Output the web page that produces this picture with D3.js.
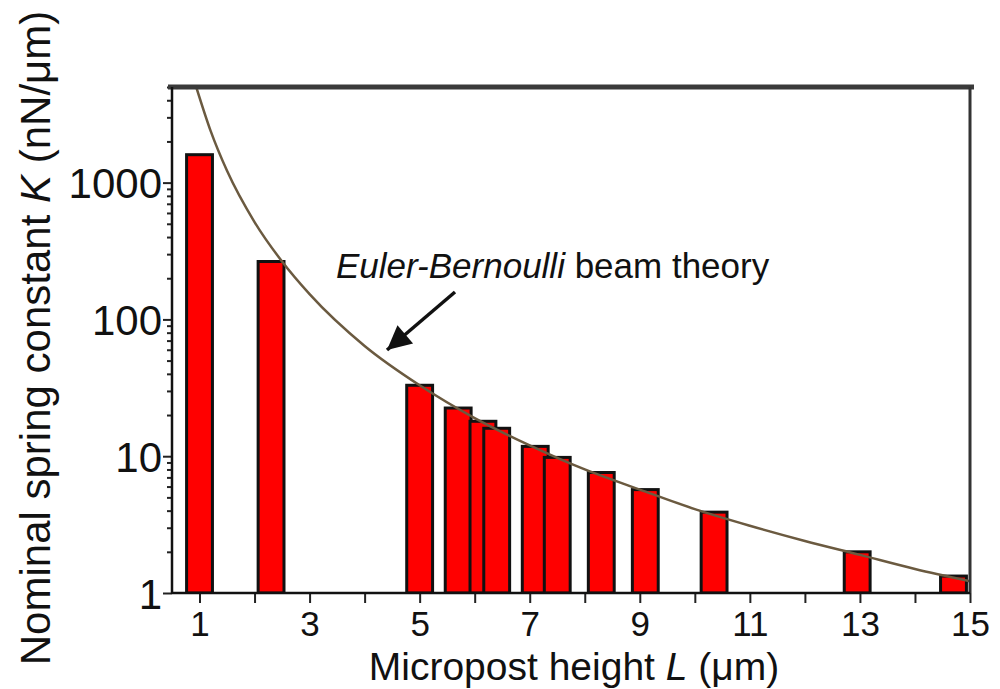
<!DOCTYPE html>
<html>
<head>
<meta charset="utf-8">
<script src="https://cdn.jsdelivr.net/npm/d3@7"></script>
<style>
  body { margin: 0; background: #fff; }
  svg text { font-family: "Liberation Sans", Arial, sans-serif; fill: #111; }
</style>
</head>
<body>
<svg id="chart" width="1000" height="689"></svg>
<script>
// micropost heights (um) and measured spring constants (nN/um)
var heights = [1.0, 2.3, 5.0, 5.7, 6.15, 6.4, 7.1, 7.5, 8.3, 9.1, 10.35, 12.95, 14.7]
var springK = [1600, 265, 33, 22.5, 18, 16, 11.8, 9.8, 7.6, 5.7, 3.9, 2.0, 1.33]

// Euler-Bernoulli beam theory curve
var theoryL = [0.94, 1.2, 1.5, 2, 2.5, 3, 4, 5, 6, 7, 8, 9, 10, 11, 12, 13, 14, 15]
var theoryK = [5000, 2400, 1220, 515, 265, 153, 64, 33, 19, 12, 8, 5.7, 4.1, 3.1, 2.4, 1.9, 1.5, 1.22]

var xTicks = [1, 3, 5, 7, 9, 11, 13, 15]
var yTicks = [1, 10, 100, 1000]

var svg = d3.select('#chart')
var plotLeft = 172, plotRight = 970, plotTop = 87, plotBottom = 593
var barW = 0.47

var x = d3.scaleLinear().domain([0.5, 15]).range([plotLeft, plotRight])
var y = d3.scaleLog().domain([1, 5000]).range([plotBottom, plotTop])

svg.append('clipPath').attr('id', 'plotClip')
    .append('rect')
    .attr('x', plotLeft).attr('y', plotTop)
    .attr('width', plotRight - plotLeft).attr('height', plotBottom - plotTop)

// bars
var barG = svg.append('g').attr('clip-path', 'url(#plotClip)')
for (let i = 0; i < heights.length; i++) {
    barG.append('rect')
        .attr('x', x(heights[i] - barW / 2))
        .attr('y', y(springK[i]))
        .attr('width', x(heights[i] + barW / 2) - x(heights[i] - barW / 2))
        .attr('height', y(1) - y(springK[i]))
        .attr('fill', '#ff0000')
        .attr('stroke', '#111')
        .attr('stroke-width', 3)
}

// theory line
var line = d3.line()
    .x((d, i) => x(theoryL[i]))
    .y((d, i) => y(theoryK[i]))
    .curve(d3.curveMonotoneX)
svg.append('path')
    .attr('clip-path', 'url(#plotClip)')
    .attr('d', line(theoryL))
    .attr('fill', 'none')
    .attr('stroke', '#6b5a40')
    .attr('stroke-width', 2.5)

// x axis
var minorX = d3.range(1, 16)
var xAxis = d3.axisBottom(x).tickValues(minorX).tickSize(10)
    .tickFormat(d => xTicks.indexOf(d) >= 0 ? d : '')
var gx = svg.append('g')
    .attr('class', 'axis')
    .attr('transform', `translate(0,${plotBottom})`)
    .call(xAxis)
gx.select('.domain').remove()
gx.selectAll('.tick line').attr('stroke', '#222').attr('stroke-width', 2)
gx.selectAll('.tick text')
    .attr('font-size', '35px')
    .attr('dy', '0.95em')
    .attr('y', 10)

// y axis with minor ticks
var minorY = []
for (let p = 0; p < 4; p++) {
    for (let m = 2; m <= 9; m++) {
        var v = m * Math.pow(10, p)
        if (v <= 5000) minorY.push(v)
    }
}
svg.append('g')
    .attr('transform', `translate(${plotLeft},0)`)
    .call(d3.axisLeft(y).tickValues(minorY).tickSize(5).tickFormat(''))
    .call(g => g.select('.domain').remove())
    .selectAll('.tick line').attr('stroke', '#222').attr('stroke-width', 2)

var gy = svg.append('g')
    .attr('transform', `translate(${plotLeft},0)`)
    .call(d3.axisLeft(y).tickValues(yTicks).tickSize(9).tickFormat(d3.format('d')))
gy.select('.domain').remove()
gy.selectAll('.tick line').attr('stroke', '#222').attr('stroke-width', 2)
gy.selectAll('.tick text').attr('font-size', '42px').attr('x', -10).attr('dy', '0.36em')

// frame
svg.append('line')
    .attr('x1', plotLeft - 4).attr('x2', plotRight + 4).attr('y1', plotTop).attr('y2', plotTop)
    .attr('stroke', '#3a3a3a').attr('stroke-width', 5)
svg.append('line')
    .attr('x1', plotRight).attr('x2', plotRight).attr('y1', plotTop).attr('y2', plotBottom)
    .attr('stroke', '#333').attr('stroke-width', 3)
svg.append('line')
    .attr('x1', plotLeft).attr('x2', plotLeft).attr('y1', plotTop).attr('y2', plotBottom + 1)
    .attr('stroke', '#111').attr('stroke-width', 2.5)
svg.append('line')
    .attr('x1', plotLeft).attr('x2', plotRight).attr('y1', plotBottom).attr('y2', plotBottom)
    .attr('stroke', '#111').attr('stroke-width', 2.5)

// axis titles
var xt = svg.append('text')
    .attr('x', (plotLeft + plotRight) / 2 + 3)
    .attr('y', 680)
    .attr('text-anchor', 'middle')
    .attr('font-size', '39px')
xt.append('tspan').text('Micropost height ')
xt.append('tspan').attr('font-style', 'italic').text('L')
xt.append('tspan').text(' (\u03bcm)')

var yt = svg.append('text')
    .attr('transform', 'translate(50,338) rotate(-90)')
    .attr('text-anchor', 'middle')
    .attr('font-size', '42px')
yt.append('tspan').text('Nominal spring constant ')
yt.append('tspan').attr('font-style', 'italic').text('K')
yt.append('tspan').text(' (nN/\u03bcm)')

// annotation
var ann = svg.append('text')
    .attr('x', 336).attr('y', 278)
    .attr('font-size', '35px')
ann.append('tspan').attr('font-style', 'italic').text('Euler-Bernoulli')
ann.append('tspan').text(' beam theory')

svg.append('defs').append('marker')
    .attr('id', 'arrowHead')
    .attr('viewBox', '0 0 10 10')
    .attr('refX', 10).attr('refY', 5)
    .attr('markerWidth', 32).attr('markerHeight', 24)
    .attr('markerUnits', 'userSpaceOnUse')
    .attr('orient', 'auto')
    .append('path')
    .attr('d', 'M0,0 L10,5 L0,10 Z')
    .attr('fill', '#111')
svg.append('line')
    .attr('x1', 455).attr('y1', 292)
    .attr('x2', 387).attr('y2', 350)
    .attr('stroke', '#111').attr('stroke-width', 3.5)
    .attr('marker-end', 'url(#arrowHead)')
</script>
</body>
</html>
